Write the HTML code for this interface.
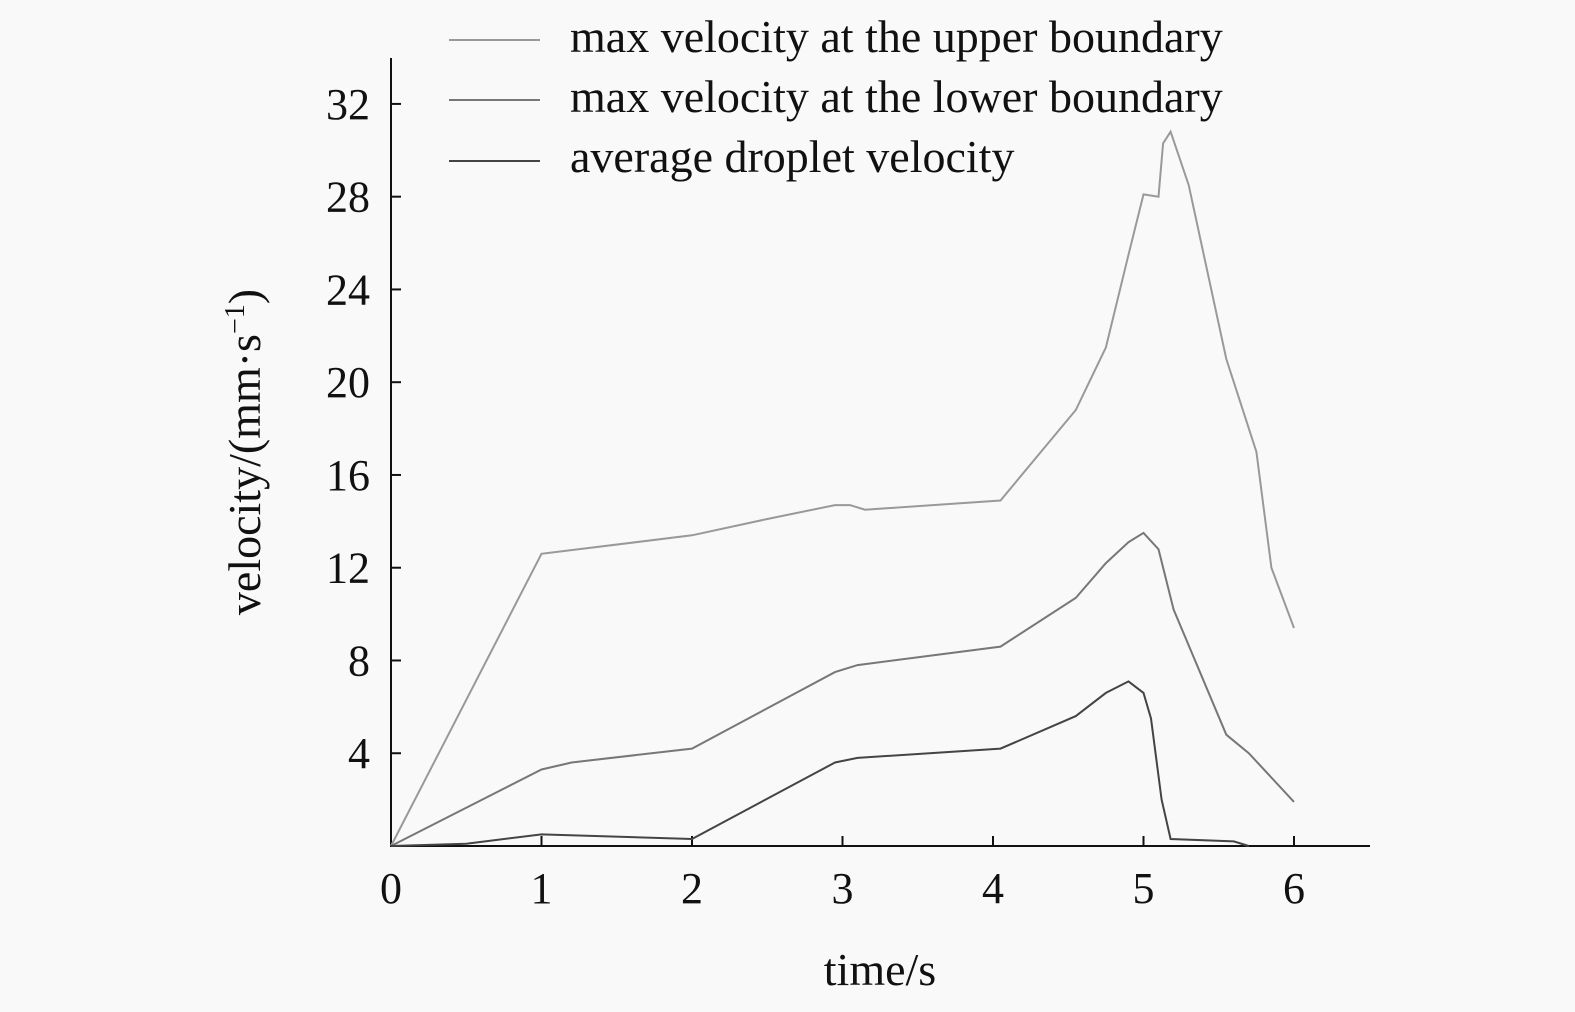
<!DOCTYPE html>
<html><head><meta charset="utf-8"><style>
body{margin:0;background:#f9f9f9}
svg{display:block;font-family:"Liberation Serif",serif}
</style></head><body>
<svg width="1575" height="1012" viewBox="0 0 1575 1012">
<rect width="1575" height="1012" fill="#f9f9f9"/>
<g id="axes"></g>
<g id="series"></g>
<g font-size="46" fill="#111">
 <line x1="449" y1="40" x2="540" y2="40" stroke="#999" stroke-width="2"/>
 <text x="570" y="52">max velocity at the upper boundary</text>
 <line x1="449" y1="100" x2="540" y2="100" stroke="#777" stroke-width="2"/>
 <text x="570" y="112">max velocity at the lower boundary</text>
 <line x1="449" y1="161" x2="540" y2="161" stroke="#444" stroke-width="2"/>
 <text x="570" y="172">average droplet velocity</text>
</g>
<text x="880" y="985" font-size="46" text-anchor="middle" fill="#111">time/s</text>
<text transform="translate(260,452) rotate(-90)" font-size="46" text-anchor="middle" fill="#111">velocity/(mm·s<tspan dy="-16" font-size="28">−1</tspan><tspan dy="16">)</tspan></text>
</svg>
<script>
const xTicks=[0,1,2,3,4,5,6];
const yTicks=[4,8,12,16,20,24,28,32];
const upperX=[0,1,2,2.5,2.95,3.05,3.15,4.05,4.55,4.75,4.9,5.0,5.1,5.13,5.18,5.3,5.55,5.75,5.85,6];
const upperY=[0,12.6,13.4,14.1,14.7,14.7,14.5,14.9,18.8,21.5,25.5,28.1,28.0,30.3,30.8,28.5,21,17,12,9.4];
const lowerX=[0,1,1.2,2,2.95,3.1,4.05,4.55,4.75,4.9,5.0,5.1,5.2,5.55,5.7,6];
const lowerY=[0,3.3,3.6,4.2,7.5,7.8,8.6,10.7,12.2,13.1,13.5,12.8,10.2,4.8,4.0,1.9];
const avgX=[0,0.5,1,2,2.95,3.1,4.05,4.55,4.75,4.9,5.0,5.05,5.12,5.18,5.6,5.7];
const avgY=[0,0.1,0.5,0.3,3.6,3.8,4.2,5.6,6.6,7.1,6.6,5.5,2,0.3,0.2,0];
const NS='http://www.w3.org/2000/svg';
const sx=v=>391+v*150.5;
const sy=v=>846-v*23.19;
function mk(t,a,p){const e=document.createElementNS(NS,t);for(const k in a)e.setAttribute(k,a[k]);p.appendChild(e);return e;}
const ax=document.getElementById('axes');
let yl=mk('line',{x1:391,y1:58,x2:391,y2:847,stroke:'#111','stroke-width':2},ax);


let xl=mk('line',{x1:390,y1:846,x2:1370,y2:846,stroke:'#111','stroke-width':2},ax);


xTicks.forEach(v=>{
 let t=mk('line',{x1:sx(v),y1:846,x2:sx(v),y2:836,stroke:'#111','stroke-width':2},ax);
 
 
 let l=mk('text',{x:sx(v),y:903,'font-size':44,'text-anchor':'middle',fill:'#111'},ax);
 l.textContent=v;
 
 
});
yTicks.forEach(v=>{
 let t=mk('line',{x1:391,y1:sy(v),x2:401,y2:sy(v),stroke:'#111','stroke-width':2},ax);
 
 
 let l=mk('text',{x:370,y:sy(v)+15,'font-size':44,'text-anchor':'end',fill:'#111'},ax);
 l.textContent=v;
 
 
});
const sg=document.getElementById('series');
function line(xs,ys,col,name){
 const d=xs.map((x,i)=>(i?'L':'M')+sx(x).toFixed(1)+','+sy(ys[i]).toFixed(1)).join('');
 const p=mk('path',{d:d,fill:'none',stroke:col,'stroke-width':2},sg);
 
 
}
line(upperX,upperY,'#999','upper-boundary-line');
line(lowerX,lowerY,'#777','lower-boundary-line');
line(avgX,avgY,'#444','average-velocity-line');
</script>
</body></html>
